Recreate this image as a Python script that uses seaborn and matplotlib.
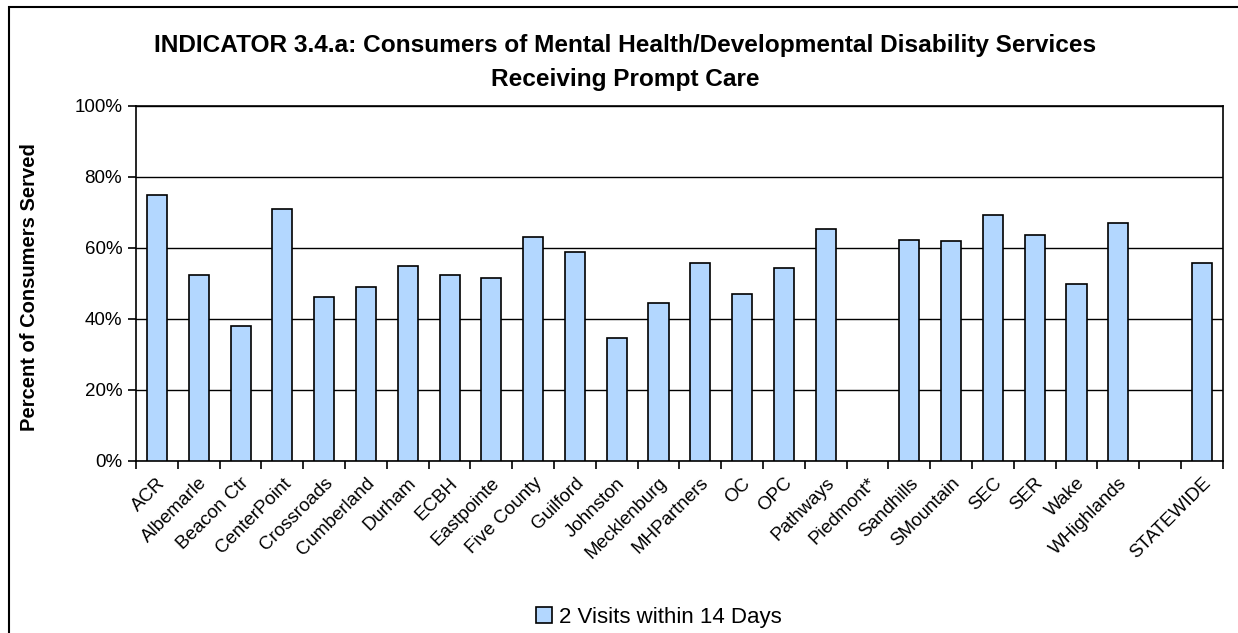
import numpy as np
import pandas as pd
import matplotlib as mpl
import matplotlib.pyplot as plt
import matplotlib.ticker as ticker
from matplotlib.patches import Rectangle, Patch
import seaborn as sns

# data
agencies = ["ACR", "Albemarle", "Beacon Ctr", "CenterPoint", "Crossroads", "Cumberland",
            "Durham", "ECBH", "Eastpointe", "Five County", "Guilford", "Johnston",
            "Mecklenburg", "MHPartners", "OC", "OPC", "Pathways", "Piedmont*",
            "Sandhills", "SMountain", "SEC", "SER", "Wake", "WHighlands", "", "STATEWIDE"]
pct_prompt = [74.8, 52.3, 37.9, 70.9, 46.2, 48.8,
              54.8, 52.3, 51.4, 63.1, 58.7, 34.5,
              44.5, 55.7, 47.0, 54.4, 65.3, np.nan,
              62.2, 61.8, 69.1, 63.5, 49.7, 67.0, np.nan, 55.7]
y_ticks = [0, 20, 40, 60, 80, 100]
series_name = "2 Visits within 14 Days"

bar_color = "#B3D7FF"

sns.set_style("white")
plt.rcParams['font.family'] = ['Liberation Sans', 'DejaVu Sans']
plt.rcParams['text.color'] = 'black'
plt.rcParams['xtick.color'] = 'black'
plt.rcParams['ytick.color'] = 'black'
plt.rcParams['axes.labelcolor'] = 'black'

df = pd.DataFrame({"Agency": agencies, "Pct": pct_prompt})

fig = plt.figure(figsize=(12.38, 6.33), dpi=100)
ax = fig.add_axes([0.1099, 0.2722, 0.8778, 0.5608])

sns.barplot(data=df, x="Agency", y="Pct", order=agencies, color=bar_color,
            width=0.48, edgecolor="black", linewidth=1.2, saturation=1, ax=ax, zorder=3)

ax.set_xlim(-0.5, len(agencies) - 0.5)
ax.set_ylim(0, 100)
ax.set_yticks(y_ticks)
ax.yaxis.set_major_formatter(ticker.PercentFormatter(100, decimals=0))
ax.grid(axis="y", color="black", linewidth=1, zorder=0)
ax.set_axisbelow(True)

for s in ax.spines.values():
    s.set_visible(True)
    s.set_color("black")
    s.set_linewidth(1.2)

# category labels at centres, tick marks on slot boundaries
ax.set_xticks(range(len(agencies)))
ax.set_xticklabels(agencies, rotation=45, ha="right", rotation_mode="anchor", fontsize=13.5)
ax.xaxis.set_minor_locator(ticker.FixedLocator(np.arange(-0.5, len(agencies), 1)))
ax.tick_params(axis="x", which="major", length=0, pad=10)
ax.tick_params(axis="x", which="minor", length=6, width=1.2, color="black", direction="out")
ax.tick_params(axis="y", length=6, width=1.2, color="black", direction="out", labelsize=13.5, pad=4)
ax.xaxis.set_ticks_position("bottom")
ax.yaxis.set_ticks_position("left")

ax.set_xlabel("")
ax.set_ylabel("Percent of Consumers Served", fontsize=14.5, fontweight="bold")
ax.yaxis.set_label_coords(-0.089, 0.49)

fig.text(0.505, 0.901,
         "INDICATOR 3.4.a: Consumers of Mental Health/Developmental Disability Services\nReceiving Prompt Care",
         ha="center", va="center", fontsize=17.6, fontweight="bold", linespacing=1.6)

handle = Patch(facecolor=bar_color, edgecolor="black", linewidth=1.2)
fig.legend([handle], [series_name], loc="center", bbox_to_anchor=(0.532, 0.025),
           frameon=False, fontsize=16, handlelength=0.75, handleheight=0.75, handletextpad=0.3)

# outer chart border
fig.patches.append(Rectangle((0.0073, -0.1), 1.1, 1.0885, transform=fig.transFigure,
                             fill=False, edgecolor="black", linewidth=1.5))

fig.savefig("out.png", dpi=100)
